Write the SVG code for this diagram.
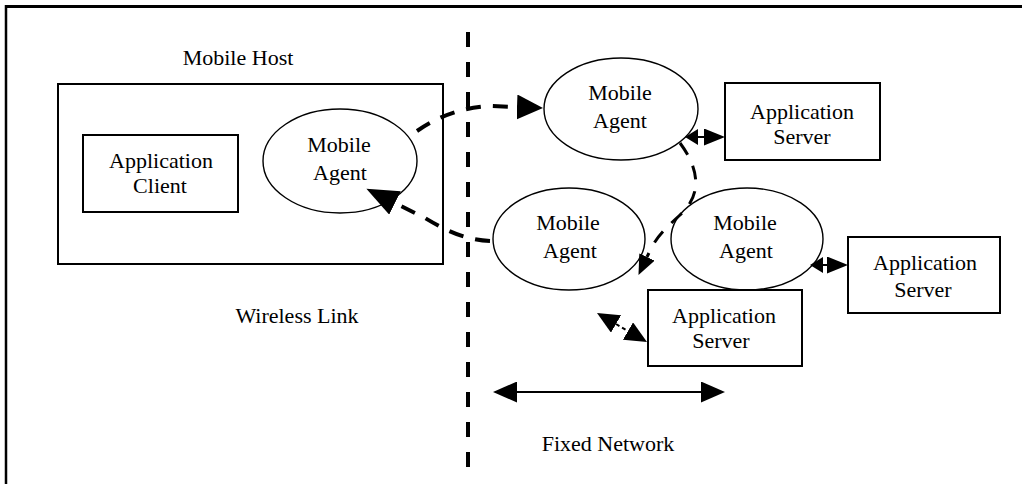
<svg xmlns="http://www.w3.org/2000/svg" width="1022" height="484" viewBox="0 0 1022 484">
<style>
text{font-family:"Liberation Serif","Times New Roman",serif;font-size:22px;fill:#000;text-anchor:middle}
.box{fill:#fff;stroke:#000;stroke-width:2}
.ell{fill:#fff;stroke:#000;stroke-width:1.4}
.dash{fill:none;stroke:#000;stroke-width:4;stroke-dasharray:15 12}
.dash3{fill:none;stroke:#000;stroke-width:3;stroke-dasharray:14 12}
.solid{fill:none;stroke:#000;stroke-width:2}
</style>
<defs>
<marker id="hTop" markerUnits="userSpaceOnUse" markerWidth="26" markerHeight="25" viewBox="0 0 26 25" refX="0" refY="12.5" orient="auto-start-reverse"><path d="M0,0 L26,12.5 L0,25 z" fill="#000"/></marker>
<marker id="hBig" markerUnits="userSpaceOnUse" markerWidth="32" markerHeight="26" viewBox="0 0 32 26" refX="0" refY="13" orient="auto-start-reverse"><path d="M0,0 L32,13 L0,26 z" fill="#000"/></marker>
<marker id="hMid" markerUnits="userSpaceOnUse" markerWidth="20" markerHeight="17" viewBox="0 0 20 17" refX="0" refY="8.5" orient="auto-start-reverse"><path d="M0,0 L20,8.5 L0,17 z" fill="#000"/></marker>
<marker id="hSa" markerUnits="userSpaceOnUse" markerWidth="13" markerHeight="16" viewBox="0 0 13 16" refX="0" refY="8" orient="auto-start-reverse"><path d="M0,0 L13,8 L0,16 z" fill="#000"/></marker>
<marker id="hSb" markerUnits="userSpaceOnUse" markerWidth="21" markerHeight="17" viewBox="0 0 21 17" refX="0" refY="8.5" orient="auto-start-reverse"><path d="M0,0 L21,8.5 L0,17 z" fill="#000"/></marker>
<marker id="hFix" markerUnits="userSpaceOnUse" markerWidth="24" markerHeight="21" viewBox="0 0 24 21" refX="0" refY="10.5" orient="auto-start-reverse"><path d="M0,0 L24,10.5 L0,21 z" fill="#000"/></marker>
<marker id="hDiag" markerUnits="userSpaceOnUse" markerWidth="22" markerHeight="20" viewBox="0 0 22 20" refX="0" refY="10" orient="auto-start-reverse"><path d="M0,0 L22,10 L0,20 z" fill="#000"/></marker>
</defs>
<rect x="0" y="0" width="1022" height="484" fill="#fff"/>
<g id="frame">
<line x1="5" y1="6.5" x2="1022" y2="6.5" stroke="#000" stroke-width="3"/>
<line x1="6" y1="5" x2="6" y2="484" stroke="#000" stroke-width="2.5"/>
</g>
<g id="labels">
<text x="238" y="65">Mobile Host</text>
<text x="297" y="323">Wireless Link</text>
<text x="608" y="451">Fixed Network</text>
</g>
<g id="mobile-host">
<rect class="box" x="58" y="84" width="385" height="180"/>
</g>
<g id="application-client">
<rect class="box" x="83" y="135" width="155" height="77"/>
<text x="161" y="168">Application</text>
<text x="160" y="193">Client</text>
</g>
<g id="agent-host">
<ellipse class="ell" cx="340" cy="161" rx="77" ry="52"/>
<text x="339" y="152">Mobile</text>
<text x="340" y="180">Agent</text>
</g>
<g id="agent-top">
<ellipse class="ell" cx="621" cy="109" rx="77" ry="51"/>
<text x="620" y="100">Mobile</text>
<text x="620" y="128">Agent</text>
</g>
<g id="server-top">
<rect class="box" x="725" y="83" width="155" height="77"/>
<text x="802" y="119">Application</text>
<text x="802" y="144">Server</text>
</g>
<g id="agent-mid-left">
<ellipse class="ell" cx="569" cy="239" rx="76" ry="51"/>
<text x="568" y="230">Mobile</text>
<text x="570" y="258">Agent</text>
</g>
<g id="agent-mid-right">
<ellipse class="ell" cx="747" cy="239" rx="76" ry="51"/>
<text x="745" y="230">Mobile</text>
<text x="746" y="258">Agent</text>
</g>
<g id="server-right">
<rect class="box" x="848" y="237" width="152" height="76"/>
<text x="925" y="270">Application</text>
<text x="923" y="297">Server</text>
</g>
<g id="server-bottom">
<rect class="box" x="648" y="290" width="154" height="76"/>
<text x="724" y="323">Application</text>
<text x="721" y="348">Server</text>
</g>
<g id="connectors">
<line x1="468" y1="32" x2="468" y2="467" stroke="#000" stroke-width="4" stroke-dasharray="15 15"/>
<path class="dash" d="M417,131 Q450,108 490,106 L517,107" marker-end="url(#hTop)"/>
<path class="dash" d="M490,241 C465,240 445,230 425,218 L395,203" marker-end="url(#hBig)"/>
<path class="dash3" d="M680,143 C700,170 702,195 680,215 S655,240 647,257" marker-end="url(#hMid)"/>
<line class="solid" x1="698" y1="137" x2="704" y2="137" marker-start="url(#hSa)" marker-end="url(#hSb)"/>
<line class="solid" x1="823" y1="265" x2="827" y2="265" marker-start="url(#hSa)" marker-end="url(#hSb)"/>
<line x1="616" y1="324" x2="628" y2="331" stroke="#000" stroke-width="2" stroke-dasharray="4 3" marker-start="url(#hDiag)" marker-end="url(#hDiag)"/>
<line class="solid" x1="517" y1="392" x2="701" y2="392" marker-start="url(#hFix)" marker-end="url(#hFix)"/>
</g>
</svg>
